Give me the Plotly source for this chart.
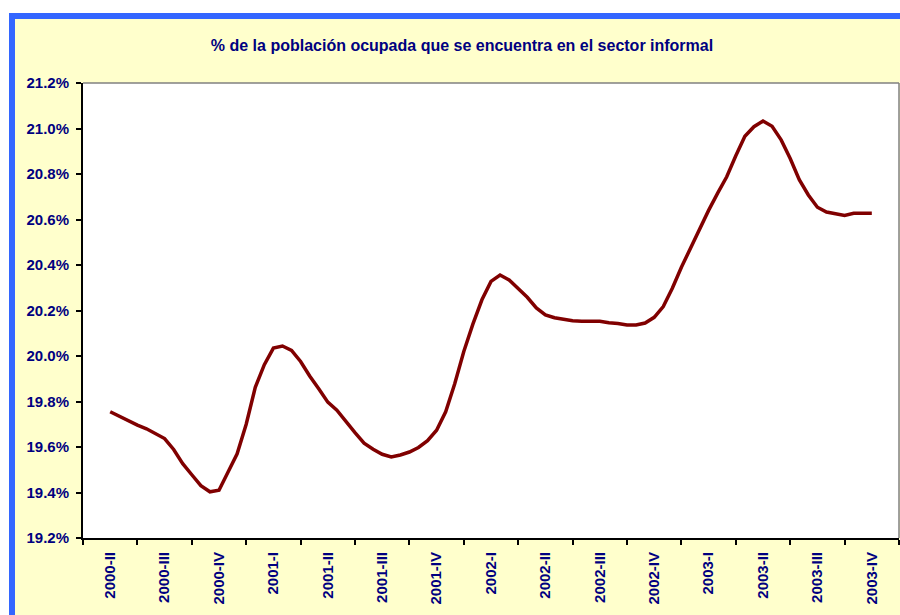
import plotly.graph_objects as go

# Quarter labels (category axis)
quarters = ["2000-II", "2000-III", "2000-IV",
            "2001-I", "2001-II", "2001-III", "2001-IV",
            "2002-I", "2002-II", "2002-III", "2002-IV",
            "2003-I", "2003-II", "2003-III", "2003-IV"]

# Sub-quarter samples per quarter (series sampled 6 times per quarter)
steps_per_quarter = 6

# % of employed population in the informal sector
informal_pct = [
    19.755, 19.735, 19.718, 19.696, 19.680, 19.658,
    19.637, 19.589, 19.527, 19.478, 19.430, 19.403,
    19.410, 19.490, 19.570, 19.700, 19.862, 19.962,
    20.035, 20.044, 20.025, 19.976, 19.912, 19.856,
    19.797, 19.762, 19.710, 19.663, 19.617, 19.590,
    19.568, 19.556, 19.565, 19.578, 19.598, 19.628,
    19.674, 19.755, 19.878, 20.020, 20.140, 20.247,
    20.328, 20.356, 20.334, 20.298, 20.258, 20.211,
    20.181, 20.168, 20.161, 20.155, 20.153, 20.153,
    20.153, 20.146, 20.143, 20.136, 20.136, 20.145,
    20.170, 20.217, 20.298, 20.390, 20.475, 20.556,
    20.640, 20.716, 20.788, 20.880, 20.966, 21.008,
    21.033, 21.010, 20.950, 20.868, 20.775, 20.708,
    20.654, 20.633, 20.624, 20.618, 20.627, 20.627,
    20.627,
]

y_ticks = [19.2, 19.4, 19.6, 19.8, 20.0, 20.2, 20.4, 20.6, 20.8, 21.0, 21.2]

title_text = "% de la población ocupada que se encuentra en el sector informal"

x_pos = [k / steps_per_quarter for k in range(len(informal_pct))]

NAVY = "#000080"
FONT = "Liberation Sans, Arial, sans-serif"

fig = go.Figure()
fig.add_trace(go.Scatter(
    x=x_pos, y=informal_pct, mode="lines",
    line=dict(color="#800000", width=3.5),
    showlegend=False, hoverinfo="skip",
))

W, H = 900, 615
ml, mr, mt, mb = 83, 1, 83, 77
pw = W - ml - mr
ph = H - mt - mb


def px_x(px):
    return (px - ml) / pw


def px_y(py):
    return (H - mb - py) / ph


shapes = [
    # white outer margins (top / left of the blue frame)
    dict(type="rect", xref="paper", yref="paper", x0=px_x(-5), x1=px_x(905),
         y0=px_y(13), y1=px_y(-5), fillcolor="white", line_width=0, layer="below"),
    dict(type="rect", xref="paper", yref="paper", x0=px_x(-5), x1=px_x(9),
         y0=px_y(620), y1=px_y(-5), fillcolor="white", line_width=0, layer="below"),
    # blue frame
    dict(type="rect", xref="paper", yref="paper", x0=px_x(9), x1=px_x(905),
         y0=px_y(19), y1=px_y(13), fillcolor="#3366FF", line_width=0, layer="below"),
    dict(type="rect", xref="paper", yref="paper", x0=px_x(9), x1=px_x(15),
         y0=px_y(620), y1=px_y(13), fillcolor="#3366FF", line_width=0, layer="below"),
    # grey top / right plot border
    dict(type="line", xref="paper", yref="paper", x0=0, x1=1, y0=1, y1=1,
         line=dict(color="#808080", width=1.5), layer="above"),
    dict(type="line", xref="paper", yref="paper", x0=1, x1=1, y0=0, y1=1,
         line=dict(color="#808080", width=1.5), layer="above"),
]

fig.update_layout(
    width=W, height=H,
    margin=dict(l=ml, r=mr, t=mt, b=mb, pad=0),
    paper_bgcolor="#FFFFCC",
    plot_bgcolor="white",
    font=dict(family=FONT, color=NAVY),
    title=dict(text="<b>" + title_text + "</b>", x=px_x(462), xanchor="center",
               xref="paper", y=1 - 45 / H, yanchor="middle",
               font=dict(size=16, color=NAVY, family=FONT)),
    shapes=shapes,
    xaxis=dict(
        range=[-0.5, len(quarters) - 0.5],
        tickmode="array",
        tickvals=list(range(len(quarters))),
        ticktext=["<b>" + q + "</b>" for q in quarters],
        tickangle=-90,
        ticks="",
        ticklabelstandoff=6,
        tickfont=dict(size=15, color=NAVY, family=FONT),
        showline=True, linecolor="black", linewidth=2,
        showgrid=False, zeroline=False,
        minor=dict(tickmode="array",
                   tickvals=[i - 0.5 for i in range(len(quarters) + 1)],
                   ticks="outside", ticklen=5, tickwidth=2, tickcolor="black",
                   showgrid=False),
        fixedrange=True,
    ),
    yaxis=dict(
        range=[y_ticks[0], y_ticks[-1]],
        tickmode="array",
        tickvals=y_ticks,
        ticktext=["<b>%.1f%%</b>" % v for v in y_ticks],
        ticks="outside", ticklen=5, tickwidth=2, tickcolor="black",
        ticklabelstandoff=4,
        tickfont=dict(size=15, color=NAVY, family=FONT),
        showline=True, linecolor="black", linewidth=2,
        showgrid=False, zeroline=False,
        fixedrange=True,
    ),
)

fig.write_html(
    "out.html",
    config={"displayModeBar": False},
    post_script="document.body.style.margin='0';document.body.style.padding='0';",
)
